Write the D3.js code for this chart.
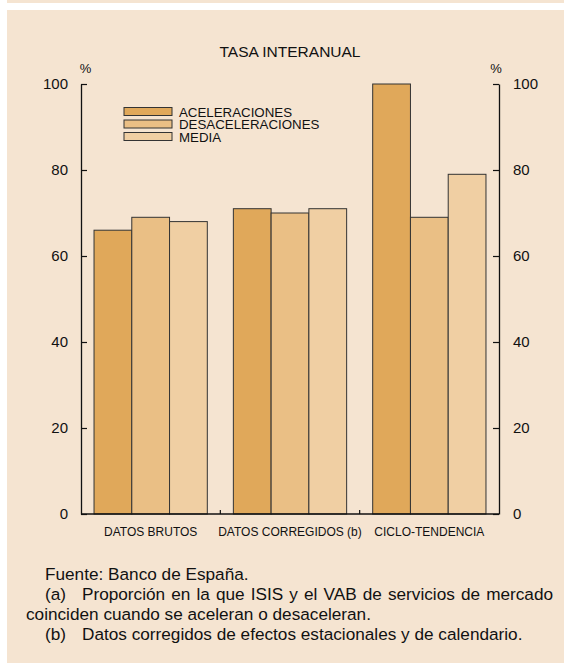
<!DOCTYPE html>
<html>
<head>
<meta charset="utf-8">
<script src="https://cdn.jsdelivr.net/npm/d3@7"></script>
<style>
body { margin: 0; background: #fff; }
svg { display: block; font-family: "Liberation Sans", Arial, sans-serif; }
</style>
</head>
<body>
<svg id="chart" width="564" height="666"></svg>
<script>
var categories = ["DATOS BRUTOS", "DATOS CORREGIDOS (b)", "CICLO-TENDENCIA"];
var series = ["ACELERACIONES", "DESACELERACIONES", "MEDIA"];
var aceleraciones = [66, 71, 100];
var desaceleraciones = [69, 70, 69];
var media = [68, 71, 79];
var y_ticks = [0, 20, 40, 60, 80, 100];
var notes = [
    { label: "", text: "Fuente: Banco de España.", justify: false },
    { label: "(a)", text: "Proporción en la que ISIS y el VAB de servicios de mercado", justify: true },
    { label: "", text: "coinciden cuando se aceleran o desaceleran.", justify: false, flush: true },
    { label: "(b)", text: "Datos corregidos de efectos estacionales y de calendario.", justify: false }
];

var colors = ['#e0a85a', '#eabf85', '#f0cfa3'];
var bg = '#f5e4d1';
var values = [aceleraciones, desaceleraciones, media];

var svg = d3.select('#chart');
svg.append('rect').attr('x', 7).attr('y', 0).attr('width', 557).attr('height', 3).attr('fill', bg);
svg.append('rect').attr('x', 7).attr('y', 10).attr('width', 557).attr('height', 653).attr('fill', bg);

var plot_left = 81, plot_right = 499, plot_top = 84, plot_bottom = 514;
var x = d3.scaleBand().domain(categories).range([plot_left, plot_right]).padding(0);
var xs = d3.scaleBand().domain(series).range([0, x.bandwidth()]).paddingInner(0).paddingOuter(0.345);
var y = d3.scaleLinear().domain([0, 100]).range([plot_bottom, plot_top]);

svg.append('text')
    .attr('x', (plot_left + plot_right) / 2)
    .attr('y', 57)
    .attr('text-anchor', 'middle')
    .style('font-size', '15.5px')
    .attr('fill', '#111')
    .text('TASA INTERANUAL');

// bars
categories.forEach(function (cat, ci) {
    var g = svg.append('g').attr('transform', 'translate(' + x(cat) + ',0)');
    series.forEach(function (s, si) {
        var v = values[si][ci];
        g.append('rect')
            .attr('x', xs(s))
            .attr('y', y(v))
            .attr('width', xs.bandwidth())
            .attr('height', y(0) - y(v))
            .attr('fill', colors[si])
            .attr('stroke', '#333')
            .attr('stroke-width', 1);
    });
});

// axes
var axis_left = d3.axisLeft(y).tickValues(y_ticks).tickSizeInner(-6).tickSizeOuter(0).tickPadding(13);
var axis_right = d3.axisRight(y).tickValues(y_ticks).tickSizeInner(-6).tickSizeOuter(0).tickPadding(14);
var gl = svg.append('g').attr('transform', 'translate(' + plot_left + ',0)').call(axis_left);
var gr = svg.append('g').attr('transform', 'translate(' + plot_right + ',0)').call(axis_right);
[gl, gr].forEach(function (g) {
    g.select('.domain').attr('stroke', '#111').attr('stroke-width', 1.3);
    g.selectAll('.tick line').attr('stroke', '#111').attr('stroke-width', 1.2);
    g.selectAll('.tick text')
        .style('font-size', '15px')
        .attr('fill', '#111')
        .style('font-family', '"Liberation Sans", Arial, sans-serif');
});

svg.append('line')
    .attr('x1', plot_left).attr('x2', plot_right)
    .attr('y1', plot_bottom).attr('y2', plot_bottom)
    .attr('stroke', '#111').attr('stroke-width', 1.3);
categories.slice(1).forEach(function (cat) {
    svg.append('line')
        .attr('x1', x(cat)).attr('x2', x(cat))
        .attr('y1', plot_bottom).attr('y2', plot_bottom - 4)
        .attr('stroke', '#111').attr('stroke-width', 1.2);
});
categories.forEach(function (cat) {
    svg.append('text')
        .attr('x', x(cat) + x.bandwidth() / 2)
        .attr('y', 536)
        .attr('text-anchor', 'middle')
        .style('font-size', '12px')
        .attr('fill', '#111')
        .text(cat);
});

[85.5, 496].forEach(function (px) {
    svg.append('text')
        .attr('x', px)
        .attr('y', 72.5)
        .attr('text-anchor', 'middle')
        .style('font-size', '13px')
        .attr('fill', '#111')
        .text('%');
});

// legend
series.forEach(function (s, i) {
    var ly = 107.5 + i * 12.5;
    svg.append('rect')
        .attr('x', 124).attr('y', ly)
        .attr('width', 48).attr('height', 8)
        .attr('fill', colors[i])
        .attr('stroke', '#333').attr('stroke-width', 1);
    svg.append('text')
        .attr('x', 179).attr('y', ly + 9)
        .style('font-size', '13.3px')
        .attr('fill', '#111')
        .text(s);
});

// footnotes
var fs = 17.2;
notes.forEach(function (n, i) {
    var by = 580 + i * 20;
    if (n.label) {
        svg.append('text').attr('x', 45).attr('y', by)
            .style('font-size', fs + 'px').attr('fill', '#111').text(n.label);
    }
    var x0 = n.flush ? 26 : (n.label ? 82 : 45);
    if (!n.justify) {
        svg.append('text').attr('x', x0).attr('y', by)
            .style('font-size', fs + 'px').attr('fill', '#111').text(n.text);
        return;
    }
    var words = n.text.split(' ');
    var nodes = words.map(function (w) {
        return svg.append('text').attr('y', by)
            .style('font-size', fs + 'px').attr('fill', '#111').text(w);
    });
    var widths = nodes.map(function (t) { return t.node().getComputedTextLength(); });
    var total = d3.sum(widths);
    var gap = (553 - x0 - total) / (words.length - 1);
    var cx = x0;
    nodes.forEach(function (t, k) {
        t.attr('x', cx);
        cx += widths[k] + gap;
    });
});
</script>
</body>
</html>
